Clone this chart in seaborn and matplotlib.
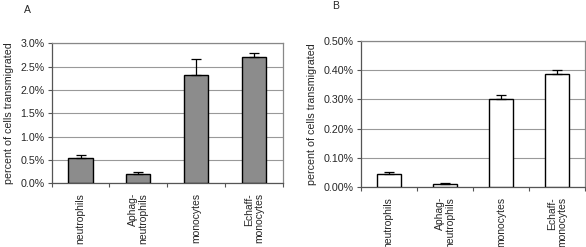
import numpy as np
import pandas as pd
import seaborn as sns
import matplotlib.pyplot as plt
from matplotlib.ticker import FuncFormatter, FixedLocator

# --- DATA ---
categories = ["neutrophils", "Aphag-\nneutrophils", "monocytes", "Echaff-\nmonocytes"]
values_a = [0.55, 0.19, 2.33, 2.71]
errors_a = [0.06, 0.06, 0.33, 0.08]
values_b = [0.045, 0.011, 0.302, 0.387]
errors_b = [0.006, 0.003, 0.013, 0.013]

sns.set_theme(style="white")
plt.rcParams["font.family"] = ["Liberation Sans", "DejaVu Sans"]

fig = plt.figure(figsize=(5.86, 2.47), dpi=100)
ax_a = fig.add_axes([51.7 / 586, 1 - 183.3 / 247, 231 / 586, 140 / 247])
ax_b = fig.add_axes([360.7 / 586, 1 - 187.3 / 247, 224.5 / 586, 146.6 / 247])


def draw_panel(ax, vals, errs, color, ymax, step, fmt):
    df = pd.DataFrame({"cell": categories, "pct": vals})
    sns.barplot(data=df, x="cell", y="pct", color=color, width=0.42,
                edgecolor="black", linewidth=1.0, saturation=1, ax=ax, zorder=3)
    ax.errorbar(range(len(vals)), vals, yerr=[np.zeros(len(errs)), errs],
                fmt="none", ecolor="black", elinewidth=0.9, capsize=3.5,
                capthick=0.9, zorder=4)
    ax.set_xlim(-0.5, len(vals) - 0.5)
    ax.set_ylim(0, ymax)
    ax.set_yticks(np.arange(0, ymax + step / 2, step))
    ax.yaxis.set_major_formatter(FuncFormatter(lambda v, p: fmt.format(v)))
    ax.yaxis.grid(True, color="#999999", linewidth=0.8, zorder=0)
    ax.set_axisbelow(True)
    for side in ["top", "right", "left", "bottom"]:
        ax.spines[side].set_visible(True)
        ax.spines[side].set_color("#888888")
        ax.spines[side].set_linewidth(0.9)
    ax.spines["left"].set_color("#555555")
    ax.spines["bottom"].set_color("#555555")
    ax.set_xlabel("")
    ax.set_ylabel("percent of cells transmigrated", fontsize=7.7, labelpad=5)
    ax.tick_params(axis="y", which="major", left=True, length=3, width=0.8,
                   color="#555555", labelsize=7.7, pad=2)
    ax.set_xticks(range(len(vals)))
    ax.set_xticklabels(categories, rotation=90, fontsize=7.5, va="top",
                       ha="center", linespacing=1.0, multialignment="right")
    ax.tick_params(axis="x", which="major", bottom=False, length=0, pad=7)
    ax.xaxis.set_minor_locator(FixedLocator(np.arange(-0.5, len(vals), 1.0)))
    ax.tick_params(axis="x", which="minor", bottom=True, length=3, width=0.8,
                   color="#555555")


draw_panel(ax_a, values_a, errors_a, "#8c8c8c", 3.0, 0.5, "{:.1f}%")
draw_panel(ax_b, values_b, errors_b, "white", 0.5, 0.1, "{:.2f}%")

fig.text(27 / 586, 1 - 10 / 247, "A", fontsize=7.5, ha="center", va="center")
fig.text(336 / 586, 1 - 6 / 247, "B", fontsize=7.5, ha="center", va="center")

fig.savefig("out.png", dpi=100)
